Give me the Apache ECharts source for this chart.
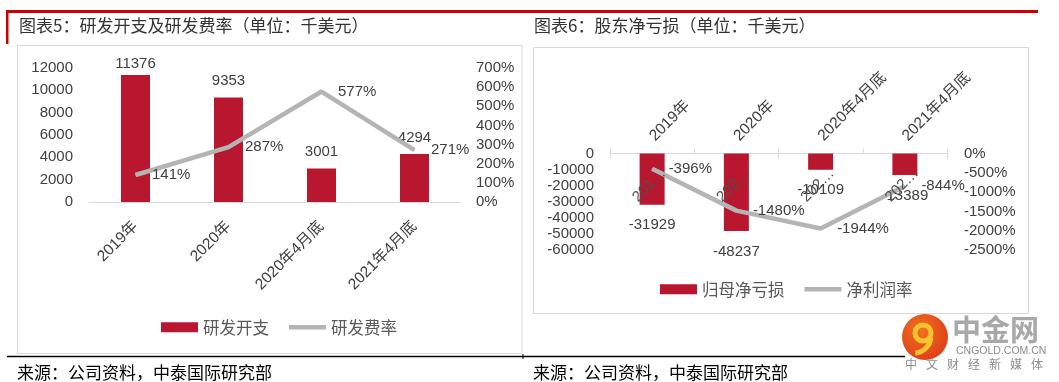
<!DOCTYPE html>
<html><head><meta charset="utf-8">
<script src="https://cdn.jsdelivr.net/npm/echarts@6/dist/echarts.min.js"></script>
<style>html,body{margin:0;padding:0;background:#fff}#c{width:1059px;height:382px}</style>
</head><body><div id="c"></div>
<script>
// ---- data ----
const rdCategories = ['2019年', '2020年', '2020年4月底', '2021年4月底'];
const rdSpend = [11376, 9353, 3001, 4294];        // 研发开支 (千美元)
const rdRate = [141, 287, 577, 271];              // 研发费率 (%)
const lossCategories = ['2019年', '2020年', '2020年4月底', '2021年4月底'];
const netLoss = [-31929, -48237, -10109, -13389]; // 归母净亏损 (千美元)
const netMargin = [-396, -1480, -1944, -844];     // 净利润率 (%)
const rdSpendAxis = { min: 0, max: 12000, interval: 2000 };
const rdRateAxis = { min: 0, max: 700, interval: 100 };
const lossAxis = { min: -60000, max: 0, interval: 10000 };
const marginAxis = { min: -2500, max: 0, interval: 500 };

const RED = '#B8172F', GREY = '#B4B4B4', TXT = '#404040';
const FONT = "'Liberation Sans','Noto Sans CJK SC',sans-serif";
const CJK = "'Noto Sans CJK SC',sans-serif";
const lineIcon = 'path://M0,0 H37 V4.5 H0 Z';
const plain = v => String(v);
const pct = v => String(v) + '%';

const chart = echarts.init(document.getElementById('c'), null, { renderer: 'canvas' });

const axisLabelBase = { color: TXT, fontSize: 15, fontFamily: FONT };

const logoChars = '中文财经新媒体'.split('');
const graphics = [
  { type: 'rect', shape: { x: 6, y: 10, width: 1032, height: 3 }, style: { fill: '#CC0000' } },
  { type: 'rect', shape: { x: 6, y: 10, width: 2.5, height: 34 }, style: { fill: '#CC0000' } },
  { type: 'text', x: 19, y: 26, style: { text: '图表5：研发开支及研发费率（单位：千美元）', fontSize: 17, fontFamily: CJK, fill: '#333', verticalAlign: 'middle' } },
  { type: 'text', x: 534, y: 26, style: { text: '图表6：股东净亏损（单位：千美元）', fontSize: 17, fontFamily: CJK, fill: '#333', verticalAlign: 'middle' } },
  { type: 'rect', shape: { x: 17.5, y: 45.5, width: 504.5, height: 308 }, style: { fill: 'none', stroke: '#D9D9D9', lineWidth: 1 } },
  { type: 'rect', shape: { x: 533.5, y: 47.5, width: 495, height: 266 }, style: { fill: 'none', stroke: '#D9D9D9', lineWidth: 1 } },
  { type: 'line', shape: { x1: 7, y1: 356.5, x2: 905, y2: 356.5 }, style: { stroke: '#000', lineWidth: 1.5 } },
  { type: 'line', shape: { x1: 523, y1: 354, x2: 523, y2: 359 }, style: { stroke: '#000', lineWidth: 1 } },
  { type: 'text', x: 17, y: 373, style: { text: '来源：公司资料，中泰国际研究部', fontSize: 17, fontFamily: CJK, fill: '#000', verticalAlign: 'middle' } },
  { type: 'text', x: 533, y: 373, style: { text: '来源：公司资料，中泰国际研究部', fontSize: 17, fontFamily: CJK, fill: '#000', verticalAlign: 'middle' } },
  // logo watermark
  { type: 'circle', shape: { cx: 925, cy: 337, r: 23 }, style: { fill: new echarts.graphic.RadialGradient(0.4, 0.35, 0.8, [{ offset: 0, color: '#F2711E' }, { offset: 1, color: '#D9361A' }]) } },
  { type: 'arc', shape: { cx: 923, cy: 333, r: 8, startAngle: 0, endAngle: Math.PI * 2 }, style: { stroke: '#F7C331', lineWidth: 5, fill: 'none' } },
  { type: 'arc', shape: { cx: 914, cy: 336, r: 17, startAngle: 0.1, endAngle: 1.5 }, style: { stroke: '#F7C331', lineWidth: 5, fill: 'none' } },
  { type: 'text', x: 952, y: 330, style: { text: '中金网', fontSize: 29, fontWeight: 'bold', fontFamily: CJK, fill: '#A8A8A8', verticalAlign: 'middle' } },
  { type: 'text', x: 956, y: 351, style: { text: 'CNGOLD.COM.CN', fontSize: 10.5, fontFamily: FONT, fill: '#8C8C8C', verticalAlign: 'middle' } }
].concat(logoChars.map((ch, i) => ({
  type: 'text', x: 905 + i * 21, y: 364, style: { text: ch, fontSize: 12, fontFamily: CJK, fill: '#8C8C8C', verticalAlign: 'middle' }
})));

const option = {
  animation: false,
  backgroundColor: '#fff',
  graphic: graphics,
  grid: [
    { left: 89, top: 68, width: 372, height: 134 },
    { left: 610, top: 153.5, width: 337, height: 96.5 }
  ],
  legend: [
    {
      data: [{ name: '研发开支', icon: 'rect' }, { name: '研发费率', icon: lineIcon }],
      left: 156, top: 314, itemWidth: 37, itemHeight: 10, itemGap: 20,
      textStyle: { fontSize: 16.5, color: '#595959', fontFamily: CJK }
    },
    {
      data: [{ name: '归母净亏损', icon: 'rect' }, { name: '净利润率', icon: lineIcon }],
      left: 655, top: 276, itemWidth: 37, itemHeight: 10, itemGap: 20,
      textStyle: { fontSize: 16.5, color: '#595959', fontFamily: CJK }
    }
  ],
  xAxis: [
    {
      type: 'category', gridIndex: 0, data: rdCategories,
      axisLine: { lineStyle: { color: '#D9D9D9', width: 1 } }, axisTick: { show: false },
      axisLabel: Object.assign({}, axisLabelBase, { fontSize: 15.5, rotate: 45, margin: 22, interval: 0 })
    },
    {
      type: 'category', gridIndex: 1, data: lossCategories, position: 'top',
      axisLine: { lineStyle: { color: '#D9D9D9', width: 1 } },
      axisTick: { show: true, length: 5, lineStyle: { color: '#D9D9D9' } },
      axisLabel: Object.assign({}, axisLabelBase, { fontSize: 15.5, rotate: 45, margin: 15, interval: 0 })
    },
    {
      type: 'category', gridIndex: 1, data: lossCategories, position: 'top',
      axisLine: { show: false }, axisLabel: { show: false },
      axisTick: { show: true, inside: true, length: 5, lineStyle: { color: '#D9D9D9' } }
    }
  ],
  yAxis: [
    Object.assign({ type: 'value', gridIndex: 0, splitLine: { show: false }, axisLine: { show: false }, axisTick: { show: false },
      axisLabel: Object.assign({}, axisLabelBase, { margin: 16, formatter: plain }) }, rdSpendAxis),
    Object.assign({ type: 'value', gridIndex: 0, position: 'right', splitLine: { show: false }, axisLine: { show: false }, axisTick: { show: false },
      axisLabel: Object.assign({}, axisLabelBase, { margin: 15, formatter: pct }) }, rdRateAxis),
    Object.assign({ type: 'value', gridIndex: 1, splitLine: { show: false }, axisLine: { show: false }, axisTick: { show: false },
      axisLabel: Object.assign({}, axisLabelBase, { margin: 16, formatter: plain }) }, lossAxis),
    Object.assign({ type: 'value', gridIndex: 1, position: 'right', splitLine: { show: false }, axisLine: { show: false }, axisTick: { show: false },
      axisLabel: Object.assign({}, axisLabelBase, { margin: 17, formatter: pct }) }, marginAxis)
  ],
  series: [
    {
      name: '研发开支', type: 'bar', xAxisIndex: 0, yAxisIndex: 0, barWidth: 29,
      data: rdSpend.map((v, i) => i === 0 ? { value: v, label: { distance: 4 } } : v),
      itemStyle: { color: RED },
      label: { show: true, position: 'top', distance: 9, color: TXT, fontSize: 15, fontFamily: FONT }
    },
    {
      name: '研发费率', type: 'line', xAxisIndex: 0, yAxisIndex: 1, data: rdRate,
      symbol: 'circle', symbolSize: 1, itemStyle: { color: GREY },
      lineStyle: { color: GREY, width: 4.5 },
      label: { show: true, position: 'right', distance: 16, color: TXT, fontSize: 15, fontFamily: FONT, formatter: '{c}%' }
    },
    {
      name: '归母净亏损', type: 'bar', xAxisIndex: 1, yAxisIndex: 2, barWidth: 25, barGap: '-100%',
      data: netLoss, itemStyle: { color: RED },
      label: { show: true, position: 'bottom', distance: 13, color: TXT, fontSize: 15, fontFamily: FONT }
    },
    {
      name: '净利润率', type: 'line', xAxisIndex: 1, yAxisIndex: 3, data: netMargin,
      symbol: 'circle', symbolSize: 1, itemStyle: { color: GREY },
      lineStyle: { color: GREY, width: 4.5 },
      label: { show: true, position: 'right', distance: 16, color: TXT, fontSize: 15, fontFamily: FONT, formatter: '{c}%' }
    },
    {
      name: '类别标签', type: 'bar', xAxisIndex: 1, yAxisIndex: 2, barWidth: 25, barGap: '-100%',
      data: netLoss, itemStyle: { color: 'rgba(0,0,0,0)' }, silent: true, z: 5,
      label: {
        show: true, position: ['50%', 29], offset: [-4, 0], rotate: 45, align: 'center', verticalAlign: 'middle',
        color: '#505050', fontSize: 15, fontFamily: FONT,
        formatter: p => p.name.slice(0, 3) + '…'
      }
    }
  ]
};
chart.setOption(option);
</script>
</body></html>
